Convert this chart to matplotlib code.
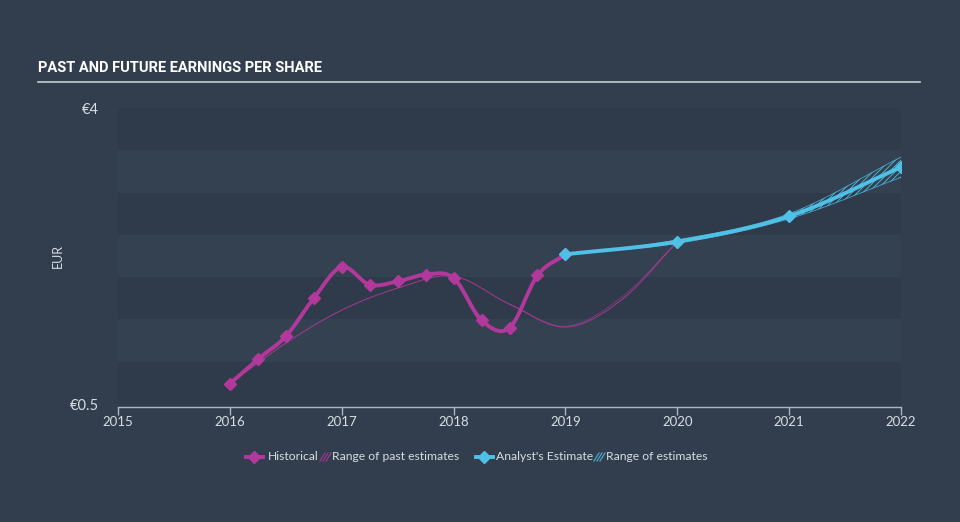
import numpy as np
import matplotlib
matplotlib.use("Agg")
import matplotlib.pyplot as plt
from matplotlib.lines import Line2D

# data
hist_x = [2016.0, 2016.25, 2016.5, 2016.75, 2017.0, 2017.25, 2017.5, 2017.75,
          2018.0, 2018.25, 2018.5, 2018.75, 2019.0]
hist_eps = [0.74, 1.03, 1.30, 1.75, 2.12, 1.91, 1.95, 2.03, 1.99, 1.49, 1.40, 2.02, 2.27]

past_est_x = [2016.0, 2016.5, 2017.0, 2017.5, 2018.0, 2018.5, 2019.0, 2019.5, 2020.0]
past_est = [0.74, 1.22, 1.61, 1.87, 2.01, 1.68, 1.41, 1.73, 2.42]

fut_x = [2019.0, 2020.0, 2021.0, 2022.0]
fut_eps = [2.27, 2.42, 2.72, 3.30]
fut_low = [2.27, 2.40, 2.69, 3.18]
fut_high = [2.27, 2.44, 2.75, 3.42]

year_ticks = [2015, 2016, 2017, 2018, 2019, 2020, 2021, 2022]

BG = "#323e4e"
BAND_DARK = "#2f3b4b"
BAND_LIGHT = "#344150"
MAGENTA = "#b3389c"
CYAN = "#4fc0e6"
TXT = "#d6dde5"


def smooth(x, y, n=20):
    # catmull-rom curve through the points, just for drawing
    x = np.asarray(x, float)
    y = np.asarray(y, float)
    px = np.concatenate([[2 * x[0] - x[1]], x, [2 * x[-1] - x[-2]]])
    py = np.concatenate([[2 * y[0] - y[1]], y, [2 * y[-1] - y[-2]]])
    xs, ys = [], []
    t = np.linspace(0, 1, n, endpoint=False)
    for i in range(1, len(px) - 2):
        for arr, out in ((px, xs), (py, ys)):
            p0, p1, p2, p3 = arr[i - 1], arr[i], arr[i + 1], arr[i + 2]
            out.extend(0.5 * (2 * p1 + (-p0 + p2) * t
                              + (2 * p0 - 5 * p1 + 4 * p2 - p3) * t ** 2
                              + (-p0 + 3 * p1 - 3 * p2 + p3) * t ** 3))
    xs.append(x[-1])
    ys.append(y[-1])
    return np.array(xs), np.array(ys)


plt.rcParams["hatch.linewidth"] = 0.6
fig = plt.figure(figsize=(9.6, 5.22), dpi=100, facecolor=BG)
ax = fig.add_axes([118 / 960, 118 / 522, 783 / 960, 296 / 522])
ax.set_facecolor(BG)

# horizontal bands
levels = np.arange(0.5, 4.01, 0.5)
for i in range(len(levels) - 1):
    col = BAND_DARK if i % 2 == 0 else BAND_LIGHT
    ax.axhspan(levels[i], levels[i + 1], color=col, lw=0, zorder=0)

# past estimates
sx, sy = smooth(past_est_x, past_est)
ax.plot(sx, sy, color=MAGENTA, lw=0.8, alpha=0.8, zorder=2)
sx2, sy2 = smooth(past_est_x[5:], [p + d for p, d in zip(past_est[5:], [0, 0.01, 0.03, 0])])
ax.plot(sx2, sy2, color=MAGENTA, lw=0.6, alpha=0.6, zorder=2)

# historical
hx, hy = smooth(hist_x, hist_eps)
ax.plot(hx, hy, color=MAGENTA, lw=2.8, zorder=3, solid_capstyle="round")
ax.plot(hist_x, hist_eps, "D", color=MAGENTA, ms=6, zorder=4)

# range of estimates
lx, ly = smooth(fut_x, fut_low)
ux, uy = smooth(fut_x, fut_high)
ax.fill_between(lx, ly, uy, facecolor="none", edgecolor=CYAN, hatch="//////", lw=0, zorder=2)
ax.plot(lx, ly, color=CYAN, lw=0.6, alpha=0.8, zorder=2)
ax.plot(ux, uy, color=CYAN, lw=0.6, alpha=0.8, zorder=2)

# analyst estimate
fx, fy = smooth(fut_x, fut_eps)
ax.plot(fx, fy, color=CYAN, lw=2.8, zorder=5)
ax.plot(fut_x, fut_eps, "D", color=CYAN, ms=6, zorder=6)

ax.set_xlim(2015, 2022)
ax.set_ylim(0.5, 4)
for s in ["top", "right", "left"]:
    ax.spines[s].set_visible(False)
ax.spines["bottom"].set_color("#a9b6c4")
ax.spines["bottom"].set_linewidth(1)
ax.spines["bottom"].set_position(("outward", 2))
ax.set_xticks(year_ticks)
ax.set_xticklabels([str(y) for y in year_ticks])
ax.tick_params(axis="x", colors="#a9b6c4", labelcolor=TXT, length=6, width=1,
               labelsize=9.5, pad=1)
for lab in ax.get_xticklabels():
    lab.set_family("Lato")
ax.set_yticks([0.5, 4])
ax.set_yticklabels(["€0.5", "€4"], family="Lato")
ax.tick_params(axis="y", length=0, labelcolor=TXT, labelsize=10.5, pad=14)
ax.set_ylabel("EUR", color=TXT, fontsize=9, family="Lato", labelpad=4)

# title + rule
fig.text(38 / 960, 1 - 68 / 522, "PAST AND FUTURE EARNINGS PER SHARE", color="white",
         fontsize=10.5, fontweight="bold", family="Roboto", va="center", ha="left")
fig.add_artist(Line2D([38 / 960, 920 / 960], [1 - 82 / 522] * 2, color="#c4ccd4", lw=1.2))

# legend, placed by hand
ly_fig = 1 - 457 / 522


def fx_(px):
    return px / 960


def fy_(py):
    return 1 - py / 522


def leg_marker(x0, x1, color):
    fig.add_artist(Line2D([fx_(x0), fx_(x1)], [ly_fig] * 2, color=color, lw=2.8))
    fig.add_artist(Line2D([fx_((x0 + x1) / 2)], [ly_fig], marker="D", ms=6, color=color, lw=0))


def leg_hatch(x0, color):
    # three little diagonal strokes
    for d in (0, 3, 6):
        fig.add_artist(Line2D([fx_(x0 + d - 3), fx_(x0 + d + 2)], [fy_(461), fy_(453)],
                              color=color, lw=0.9, alpha=0.8))


def leg_text(x0, s):
    fig.text(fx_(x0), ly_fig, s, color=TXT, fontsize=8.7, family="Lato", va="center", ha="left")


leg_marker(246, 263, MAGENTA)
leg_text(268, "Historical")
leg_hatch(323, MAGENTA)
leg_text(332, "Range of past estimates")
leg_marker(476, 493, CYAN)
leg_text(496, "Analyst's Estimate")
leg_hatch(597, CYAN)
leg_text(606, "Range of estimates")

fig.savefig("out.png", dpi=100, facecolor=BG)
